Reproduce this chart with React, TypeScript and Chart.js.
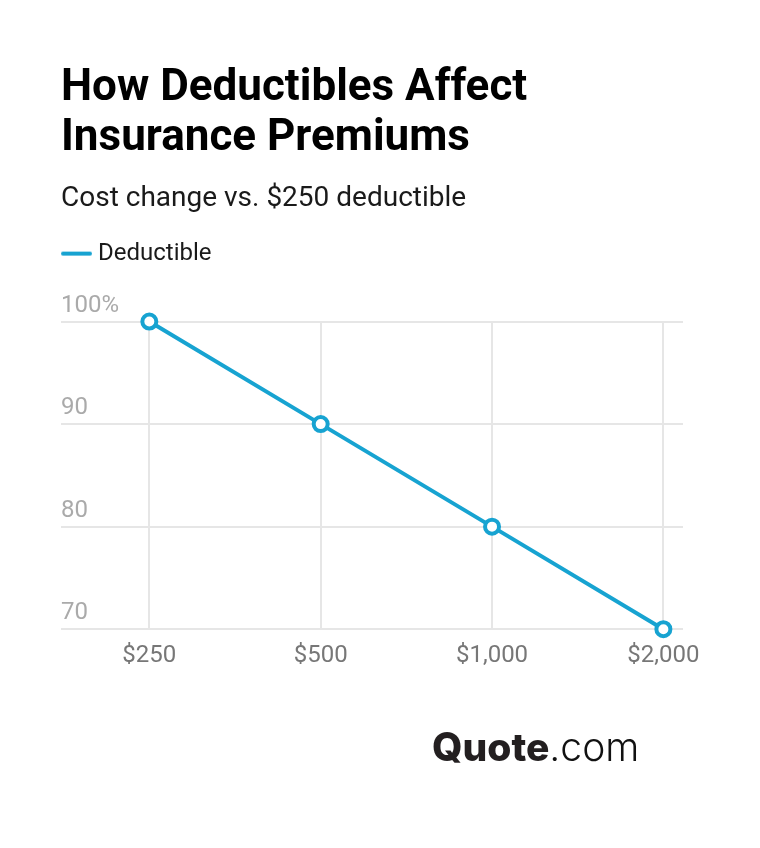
import { useEffect, useRef } from 'react'
import { Chart, registerables } from 'chart.js'

Chart.register(...registerables)

const deductibles = ['$250', '$500', '$1,000', '$2,000']
const premiums = [100, 90, 80, 70]
const yTicks = [70, 80, 90, 100]

const BLUE = '#17a3d1'
const FONT = 'Roboto'

// legend swatch: the text offset follows the box width, so the longer rounded line comes from a small canvas
function legendSwatch() {
  const c = document.createElement('canvas')
  c.width = 37
  c.height = 6
  const ctx = c.getContext('2d')!
  ctx.strokeStyle = BLUE
  ctx.lineWidth = 4
  ctx.lineCap = 'round'
  ctx.beginPath()
  ctx.moveTo(8, 3)
  ctx.lineTo(35, 3)
  ctx.stroke()
  return c
}

// leaves the gap between the legend and the plot
const legendGap = {
  id: 'legendGap',
  beforeInit(chart: any) {
    const fit = chart.legend.fit
    chart.legend.fit = function () {
      fit.call(this)
      this.height += 46
    }
  },
}

export default function App() {
  const canvasRef = useRef<HTMLCanvasElement>(null)

  useEffect(() => {
    if (!canvasRef.current) return
    const chart = new Chart(canvasRef.current, {
      type: 'line',
      plugins: [legendGap],
      data: {
        datasets: [{
          label: 'Deductible',
          data: premiums.map((y, i) => ({ x: i, y })),
          borderColor: BLUE,
          backgroundColor: BLUE,
          borderWidth: 4,
          borderCapStyle: 'round',
          pointBackgroundColor: '#ffffff',
          pointBorderColor: BLUE,
          pointBorderWidth: 4,
          pointRadius: 7,
          clip: false,
        }],
      },
      options: {
        animation: false,
        responsive: false,
        layout: { padding: { left: 61, right: 77, top: 64, bottom: 166 } },
        plugins: {
          title: {
            display: true,
            align: 'start',
            text: ['How Deductibles Affect', 'Insurance Premiums'],
            color: '#000000',
            font: { family: FONT, size: 44, weight: 'bold', lineHeight: 1.136 },
            padding: { top: 0, bottom: 18 },
          },
          subtitle: {
            display: true,
            align: 'start',
            text: 'Cost change vs. $250 deductible',
            color: '#1a1a1a',
            font: { family: FONT, size: 28, weight: 'normal' },
            padding: { top: 0, bottom: 26 },
          },
          legend: {
            display: true,
            align: 'start',
            labels: {
              usePointStyle: true,
              pointStyle: legendSwatch(),
              pointStyleWidth: 25,
              color: '#1a1a1a',
              font: { family: FONT, size: 24 },
              padding: 0,
            },
          },
          tooltip: { enabled: false },
        },
        scales: {
          x: {
            type: 'linear',
            min: -0.5155,
            max: 3.1145,
            afterBuildTicks: (axis) => {
              axis.ticks = deductibles.map((_, i) => ({ value: i }))
            },
            ticks: {
              callback: (value) => deductibles[value as number],
              color: '#777777',
              font: { family: FONT, size: 24 },
              padding: 12,
              maxRotation: 0,
              autoSkip: false,
            },
            grid: { color: '#e6e6e6', lineWidth: 2, drawTicks: false },
            border: { display: false },
          },
          y: {
            min: 70,
            max: 100,
            afterBuildTicks: (axis) => {
              axis.ticks = yTicks.map((value) => ({ value }))
            },
            ticks: {
              callback: (value) => (value === 100 ? '100%' : String(value)),
              color: '#aaaaaa',
              font: { family: FONT, size: 24 },
              mirror: true,
              padding: 0,
              labelOffset: -16,
            },
            grid: { color: '#e6e6e6', lineWidth: 2, drawTicks: false },
            border: { display: false },
          },
        },
      },
    })
    return () => chart.destroy()
  }, [])

  return (
    <div style={{ position: 'absolute', left: 0, top: 0, width: 760, height: 848, background: '#fff' }}>
      <canvas ref={canvasRef} width={760} height={848} style={{ display: 'block' }} />
      <div style={{ position: 'absolute', left: 432, top: 722, fontFamily: 'Inter', fontSize: 39, lineHeight: '50px', color: '#231f20', whiteSpace: 'nowrap' }}>
        <span style={{ fontWeight: 800 }}>Quote</span>
        <span style={{ fontWeight: 300, color: '#111' }}>.com</span>
      </div>
    </div>
  )
}
